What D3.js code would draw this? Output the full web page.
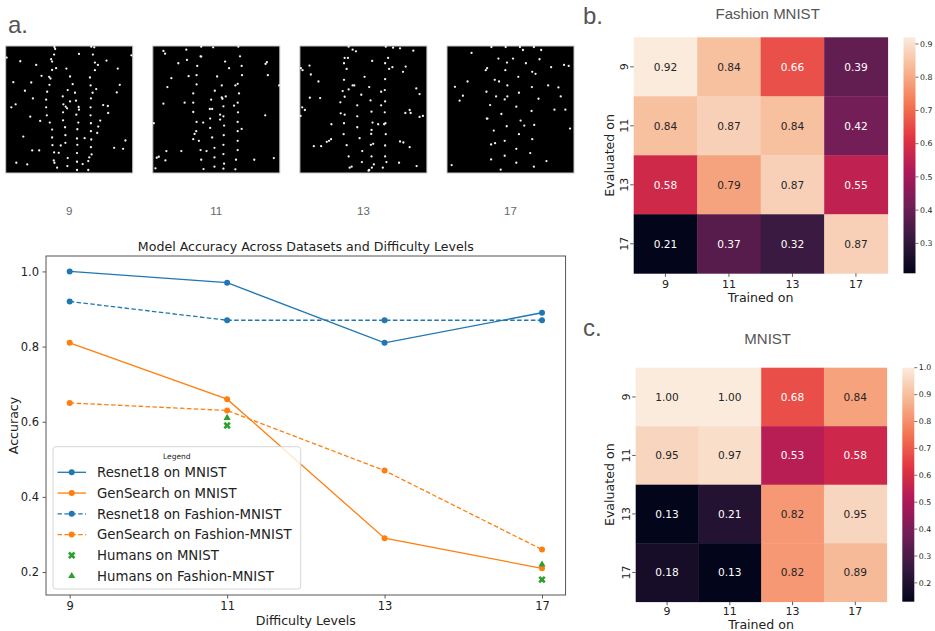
<!DOCTYPE html>
<html><head><meta charset="utf-8">
<script src="https://cdn.jsdelivr.net/npm/d3@7"></script>
<style>body{margin:0;background:#fff;} svg{display:block;}</style>
</head><body>
<svg id="fig" width="935" height="631"></svg>
<script>
// ---------------- data ----------------
const levels = ["9","11","13","17"];
const resnetMnist   = [1.00, 0.97, 0.81, 0.89];
const genMnist      = [0.81, 0.66, 0.29, 0.21];
const resnetFashion = [0.92, 0.87, 0.87, 0.87];
const genFashion    = [0.65, 0.63, 0.47, 0.26];
const humansMnist   = [null, 0.59, null, 0.18];
const humansFashion = [null, 0.61, null, 0.22];
const accTicks = [0.2, 0.4, 0.6, 0.8, 1.0];

const fashionMatrix = [
  [0.92, 0.84, 0.66, 0.39],
  [0.84, 0.87, 0.84, 0.42],
  [0.58, 0.79, 0.87, 0.55],
  [0.21, 0.37, 0.32, 0.87]
];
const mnistMatrix = [
  [1.00, 1.00, 0.68, 0.84],
  [0.95, 0.97, 0.53, 0.58],
  [0.13, 0.21, 0.82, 0.95],
  [0.18, 0.13, 0.82, 0.89]
];
const fashionCbTicks = [0.3, 0.4, 0.5, 0.6, 0.7, 0.8, 0.9];
const mnistCbTicks = [0.2, 0.3, 0.4, 0.5, 0.6, 0.7, 0.8, 0.9, 1.0];

// dot positions (pixel units of a 5..388 frame)
const dots9 = [[152,8],[154,14],[263,7],[272,9],[8,40],[384,33],[49,51],[97,62],[142,45],[145,52],[151,31],[226,29],[268,31],[309,49],[274,55],[283,62],[157,72],[145,77],[188,73],[274,78],[343,73],[113,95],[136,98],[140,103],[199,97],[259,100],[28,114],[82,115],[137,122],[207,120],[261,124],[349,122],[278,135],[267,146],[340,145],[63,140],[130,143],[192,138],[214,146],[87,163],[127,167],[177,157],[199,172],[217,170],[262,163],[35,181],[22,190],[127,190],[179,181],[186,188],[190,193],[225,189],[226,197],[261,190],[299,183],[313,186],[314,207],[79,218],[129,214],[178,205],[218,212],[261,214],[109,231],[138,236],[178,229],[224,236],[262,238],[290,230],[284,248],[145,257],[184,250],[221,256],[262,262],[281,267],[185,274],[145,281],[58,278],[220,284],[243,283],[263,287],[366,290],[146,304],[171,305],[185,297],[221,303],[262,310],[332,312],[359,315],[85,320],[106,320],[151,326],[165,327],[220,328],[264,332],[257,341],[192,343],[150,350],[152,357],[220,354],[254,352],[37,357],[70,362],[237,361],[191,367],[160,372],[220,379],[254,379]];
const dots11 = [[37,20],[42,28],[106,16],[151,7],[187,9],[263,7],[149,36],[151,37],[268,36],[108,47],[82,57],[139,65],[223,52],[235,72],[273,65],[345,59],[349,54],[352,93],[61,102],[113,96],[137,93],[199,97],[49,129],[137,121],[213,124],[254,124],[261,119],[274,93],[386,124],[127,148],[192,140],[265,148],[181,167],[213,160],[215,164],[225,157],[37,179],[101,176],[127,176],[218,187],[250,185],[261,176],[177,195],[184,195],[127,204],[208,212],[218,217],[262,205],[344,214],[137,234],[157,236],[178,224],[208,227],[220,245],[261,234],[8,238],[136,262],[131,270],[178,252],[273,255],[261,262],[219,274],[127,286],[144,291],[184,281],[261,291],[218,303],[191,312],[46,322],[91,322],[149,319],[167,322],[261,319],[218,331],[17,342],[23,339],[43,350],[151,348],[191,341],[256,348],[311,348],[370,343],[220,360],[13,374],[158,376],[191,369],[218,375],[254,377]];
const dots13 = [[152,7],[164,16],[174,21],[264,7],[286,10],[307,12],[347,19],[140,41],[150,41],[223,50],[271,41],[138,57],[262,57],[284,69],[274,74],[324,67],[8,72],[13,78],[34,64],[146,74],[38,91],[316,83],[200,98],[138,107],[262,105],[61,112],[164,124],[169,124],[214,129],[152,136],[134,141],[190,152],[250,143],[261,138],[356,133],[366,150],[35,161],[66,162],[140,158],[218,169],[262,172],[127,175],[178,184],[250,184],[12,190],[20,198],[7,216],[128,208],[140,212],[178,217],[221,203],[261,205],[323,207],[336,198],[339,207],[366,219],[376,216],[100,241],[138,238],[178,250],[224,236],[241,241],[259,241],[263,238],[221,258],[220,270],[137,271],[264,271],[185,283],[86,294],[93,291],[99,286],[47,307],[69,307],[146,304],[219,303],[226,300],[262,305],[307,293],[317,296],[336,310],[193,322],[152,338],[221,338],[262,338],[192,355],[228,362],[266,355],[304,357],[357,367],[155,372],[161,369],[222,372],[255,372],[212,381],[214,379]];
const dots17 = [[139,8],[182,8],[225,8],[267,8],[234,17],[289,17],[79,26],[160,43],[204,43],[186,55],[243,57],[284,45],[126,72],[122,78],[181,78],[262,83],[272,89],[319,69],[358,62],[372,65],[220,98],[149,107],[162,112],[67,112],[187,124],[29,128],[261,129],[310,124],[341,130],[124,143],[222,146],[53,155],[43,170],[153,157],[187,157],[179,166],[281,164],[348,157],[135,183],[214,188],[329,197],[362,197],[260,201],[169,210],[125,224],[127,224],[227,230],[185,247],[238,245],[268,243],[146,260],[222,271],[376,254],[179,291],[150,298],[138,302],[262,286],[214,315],[256,328],[179,336],[138,347],[214,357],[305,352],[19,364],[167,378],[267,369]];

// ---------------- setup ----------------
const svg = d3.select("#fig");
const DJ = "DejaVu Sans, sans-serif";
const HV = "Liberation Sans, Arial, sans-serif";
const C = {blue:"#1f77b4", orange:"#ff7f0e", green:"#2ca02c"};

// panel letters
[["a.",8,33],["b.",583,24],["c.",583,336]].forEach(([t,x,y])=>{
  svg.append("text").attr("x",x).attr("y",y).text(t)
    .style("font-family",HV).style("font-size","24px").attr("fill","#555");
});

// ---------------- panel a : sample images ----------------
const imgBand = d3.scaleBand().domain(levels).range([5.7, 574]).paddingInner(0.1366).paddingOuter(0);
const imgSize = imgBand.bandwidth();
const dotScale = d3.scaleLinear().domain([5, 388]).range([0, imgSize]);
const dotSets = [dots9, dots11, dots13, dots17];
levels.forEach((lv, i) => {
  const g = svg.append("g").attr("transform", `translate(${imgBand(lv)},46)`);
  g.append("rect").attr("width", imgSize).attr("height", imgSize)
    .attr("fill", "#000").attr("stroke", "#c8c8c8").attr("stroke-width", 1);
  g.selectAll("circle").data(dotSets[i]).join("circle")
    .attr("cx", d => dotScale(d[0])).attr("cy", d => dotScale(d[1]))
    .attr("r", 1.15).attr("fill", "#f2f2f2");
  svg.append("text").attr("x", imgBand(lv) + imgSize/2).attr("y", 215)
    .attr("text-anchor","middle").text(lv)
    .style("font-family",HV).style("font-size","11.5px").attr("fill","#666");
});

// ---------------- line chart ----------------
const L = {left:46, right:565.6, top:256, bottom:595};
const x = d3.scalePoint().domain(levels).range([69.7, 542]);
const y = d3.scaleLinear().domain([0.139, 1.041]).range([L.bottom, L.top]);
const lc = svg.append("g");

lc.append("text").attr("x",(L.left+L.right)/2).attr("y",251).attr("text-anchor","middle")
  .text("Model Accuracy Across Datasets and Difficulty Levels")
  .style("font-family",DJ).style("font-size","12.6px").attr("fill","#222");

const xAxis = lc.append("g").attr("transform",`translate(0,${L.bottom})`)
  .call(d3.axisBottom(x).tickSize(3.5).tickPadding(3.5));
const yAxis = lc.append("g").attr("transform",`translate(${L.left},0)`)
  .call(d3.axisLeft(y).tickValues(accTicks).tickFormat(d3.format(".1f")).tickSize(3.5).tickPadding(3.5));
[xAxis,yAxis].forEach(a=>{
  a.select(".domain").remove();
  a.selectAll("line").attr("stroke","#333").attr("stroke-width",0.8);
  a.selectAll("text").style("font-family",DJ).style("font-size","11.5px").attr("fill","#222");
});
lc.append("rect").attr("x",L.left).attr("y",L.top).attr("width",L.right-L.left).attr("height",L.bottom-L.top)
  .attr("fill","none").attr("stroke","#444").attr("stroke-width",0.9);

lc.append("text").attr("transform",`translate(18,${(L.top+L.bottom)/2}) rotate(-90)`)
  .attr("text-anchor","middle").text("Accuracy")
  .style("font-family",DJ).style("font-size","12.6px").attr("fill","#222");
lc.append("text").attr("x",(L.left+L.right)/2).attr("y",625).attr("text-anchor","middle")
  .text("Difficulty Levels").style("font-family",DJ).style("font-size","12.6px").attr("fill","#222");

const series = [
  {name:"Resnet18 on MNIST", values:resnetMnist, color:C.blue, dash:null},
  {name:"GenSearch on MNIST", values:genMnist, color:C.orange, dash:null},
  {name:"Resnet18 on Fashion-MNIST", values:resnetFashion, color:C.blue, dash:"4.5,2.4"},
  {name:"GenSearch on Fashion-MNIST", values:genFashion, color:C.orange, dash:"4.5,2.4"}
];
const line = d3.line().x((d,i)=>x(levels[i])).y(d=>y(d));
series.forEach(s=>{
  lc.append("path").attr("d",line(s.values)).attr("fill","none")
    .attr("stroke",s.color).attr("stroke-width",1.3).attr("stroke-dasharray",s.dash);
  lc.selectAll(null).data(s.values).join("circle")
    .attr("cx",(d,i)=>x(levels[i])).attr("cy",d=>y(d)).attr("r",3).attr("fill",s.color);
});
const humans = [
  {name:"Humans on MNIST", values:humansMnist, sym:d3.symbolCross, rot:45, size:34},
  {name:"Humans on Fashion-MNIST", values:humansFashion, sym:d3.symbolTriangle, rot:0, size:22}
];
humans.forEach(h=>{
  lc.selectAll(null).data(h.values.map((v,i)=>({v,i})).filter(d=>d.v!=null)).join("path")
    .attr("d",d3.symbol().type(h.sym).size(h.size))
    .attr("transform",d=>`translate(${x(levels[d.i])},${y(d.v)}) rotate(${h.rot})`)
    .attr("fill",C.green);
});

// legend
const lg = lc.append("g");
lg.append("rect").attr("x",53).attr("y",446.7).attr("width",247.7).attr("height",142.3).attr("rx",3)
  .attr("fill","#fff").attr("fill-opacity",0.8).attr("stroke","#d6d6d6").attr("stroke-width",1);
lg.append("text").attr("x",176.8).attr("y",458.5).attr("text-anchor","middle").text("Legend")
  .style("font-family",DJ).style("font-size","7.5px").attr("fill","#222");
const legItems = series.map(s=>({...s, kind:"line"})).concat(humans.map(h=>({...h, kind:"sym"})));
legItems.forEach((it,i)=>{
  const yy = 472.3 + i*20.75;
  if (it.kind==="line") {
    lg.append("line").attr("x1",57.5).attr("x2",86).attr("y1",yy).attr("y2",yy)
      .attr("stroke",it.color).attr("stroke-width",1.3).attr("stroke-dasharray",it.dash);
    lg.append("circle").attr("cx",71.7).attr("cy",yy).attr("r",3).attr("fill",it.color);
  } else {
    lg.append("path").attr("d",d3.symbol().type(it.sym).size(it.size))
      .attr("transform",`translate(71.7,${yy}) rotate(${it.rot})`).attr("fill",C.green);
  }
  lg.append("text").attr("x",97).attr("y",yy).attr("dy","0.36em").text(it.name)
    .style("font-family",DJ).style("font-size","13.3px").attr("fill","#222");
});

// ---------------- heatmaps ----------------
const rocketStops = ["#03051a","#35193e","#701f57","#ad1759","#e13342","#f37651","#f6b48f","#faebdd"];
const rocket = d3.scaleLinear().domain(d3.range(8).map(i=>i/7)).range(rocketStops).interpolate(d3.interpolateRgb).clamp(true);
function lum(c){
  const r = d3.rgb(c);
  const f = v => { v/=255; return v<=0.03928 ? v/12.92 : Math.pow((v+0.055)/1.055,2.4); };
  return 0.2126*f(r.r)+0.7152*f(r.g)+0.0722*f(r.b);
}
function heatmap(id, matrix, cbTicks, box, cbx, title, titleY, xTickY, xLabY) {
  const g = svg.append("g");
  const ext = d3.extent(matrix.flat());
  const col = v => rocket((v-ext[0])/(ext[1]-ext[0]));
  const bx = d3.scaleBand().domain(levels).range([box.x0, box.x1]);
  const by = d3.scaleBand().domain(levels).range([box.y0, box.y1]);
  g.append("text").attr("x",767.7).attr("y",titleY).attr("text-anchor","middle").text(title)
    .style("font-family",HV).style("font-size","15px").attr("fill","#555");
  const cells = [];
  matrix.forEach((row,r)=>row.forEach((v,c)=>cells.push({r,c,v})));
  g.selectAll("rect.cell").data(cells).join("rect").attr("class","cell")
    .attr("x",d=>bx(levels[d.c])).attr("y",d=>by(levels[d.r]))
    .attr("width",bx.bandwidth()+0.4).attr("height",by.bandwidth()+0.4)
    .attr("fill",d=>col(d.v));
  g.selectAll("text.ann").data(cells).join("text").attr("class","ann")
    .attr("x",d=>bx(levels[d.c])+bx.bandwidth()/2).attr("y",d=>by(levels[d.r])+by.bandwidth()/2)
    .attr("dy","0.36em").attr("text-anchor","middle").text(d=>d.v.toFixed(2))
    .style("font-family",DJ).style("font-size","10.6px")
    .attr("fill",d=> lum(col(d.v))>0.408 ? "#262626" : "#ffffff");
  levels.forEach(lv=>{
    const cx = bx(lv)+bx.bandwidth()/2;
    g.append("line").attr("x1",cx).attr("x2",cx).attr("y1",box.y1).attr("y2",box.y1+3.5).attr("stroke","#333").attr("stroke-width",0.8);
    g.append("text").attr("x",cx).attr("y",xTickY).attr("text-anchor","middle").text(lv)
      .style("font-family",DJ).style("font-size","11px").attr("fill","#222");
    const cy = by(lv)+by.bandwidth()/2;
    g.append("line").attr("x1",box.x0-3.5).attr("x2",box.x0).attr("y1",cy).attr("y2",cy).attr("stroke","#333").attr("stroke-width",0.8);
    g.append("text").attr("transform",`translate(${box.x0-5.5},${cy}) rotate(-90)`).attr("text-anchor","middle").text(lv)
      .style("font-family",DJ).style("font-size","11px").attr("fill","#222");
  });
  g.append("text").attr("x",(box.x0+box.x1)/2).attr("y",xLabY).attr("text-anchor","middle").text("Trained on")
    .style("font-family",DJ).style("font-size","12.6px").attr("fill","#222");
  g.append("text").attr("transform",`translate(614,${(box.y0+box.y1)/2}) rotate(-90)`).attr("text-anchor","middle")
    .text("Evaluated on").style("font-family",DJ).style("font-size","12.6px").attr("fill","#222");
  // colorbar
  const grad = svg.append("defs").append("linearGradient").attr("id",id)
    .attr("x1",0).attr("y1",1).attr("x2",0).attr("y2",0);
  d3.range(61).forEach(i=>{
    grad.append("stop").attr("offset",i/60).attr("stop-color",rocket(i/60));
  });
  g.append("rect").attr("x",cbx).attr("y",box.y0).attr("width",12).attr("height",box.y1-box.y0)
    .attr("fill",`url(#${id})`);
  const cs = d3.scaleLinear().domain(ext).range([box.y1, box.y0]);
  cbTicks.forEach(t=>{
    g.append("line").attr("x1",cbx+12).attr("x2",cbx+15).attr("y1",cs(t)).attr("y2",cs(t)).attr("stroke","#333").attr("stroke-width",0.7);
    g.append("text").attr("x",cbx+16.5).attr("y",cs(t)).attr("dy","0.35em").text(t.toFixed(1))
      .style("font-family",DJ).style("font-size","7.8px").attr("fill","#222");
  });
}
heatmap("gradB", fashionMatrix, fashionCbTicks, {x0:633.7,x1:887.7,y0:37.3,y1:273.3}, 903.5, "Fashion MNIST", 18.5, 287.5, 301.5);
heatmap("gradC", mnistMatrix, mnistCbTicks, {x0:635.7,x1:886.7,y0:367.7,y1:601.7}, 902.3, "MNIST", 344, 615, 629);
</script>
</body></html>
